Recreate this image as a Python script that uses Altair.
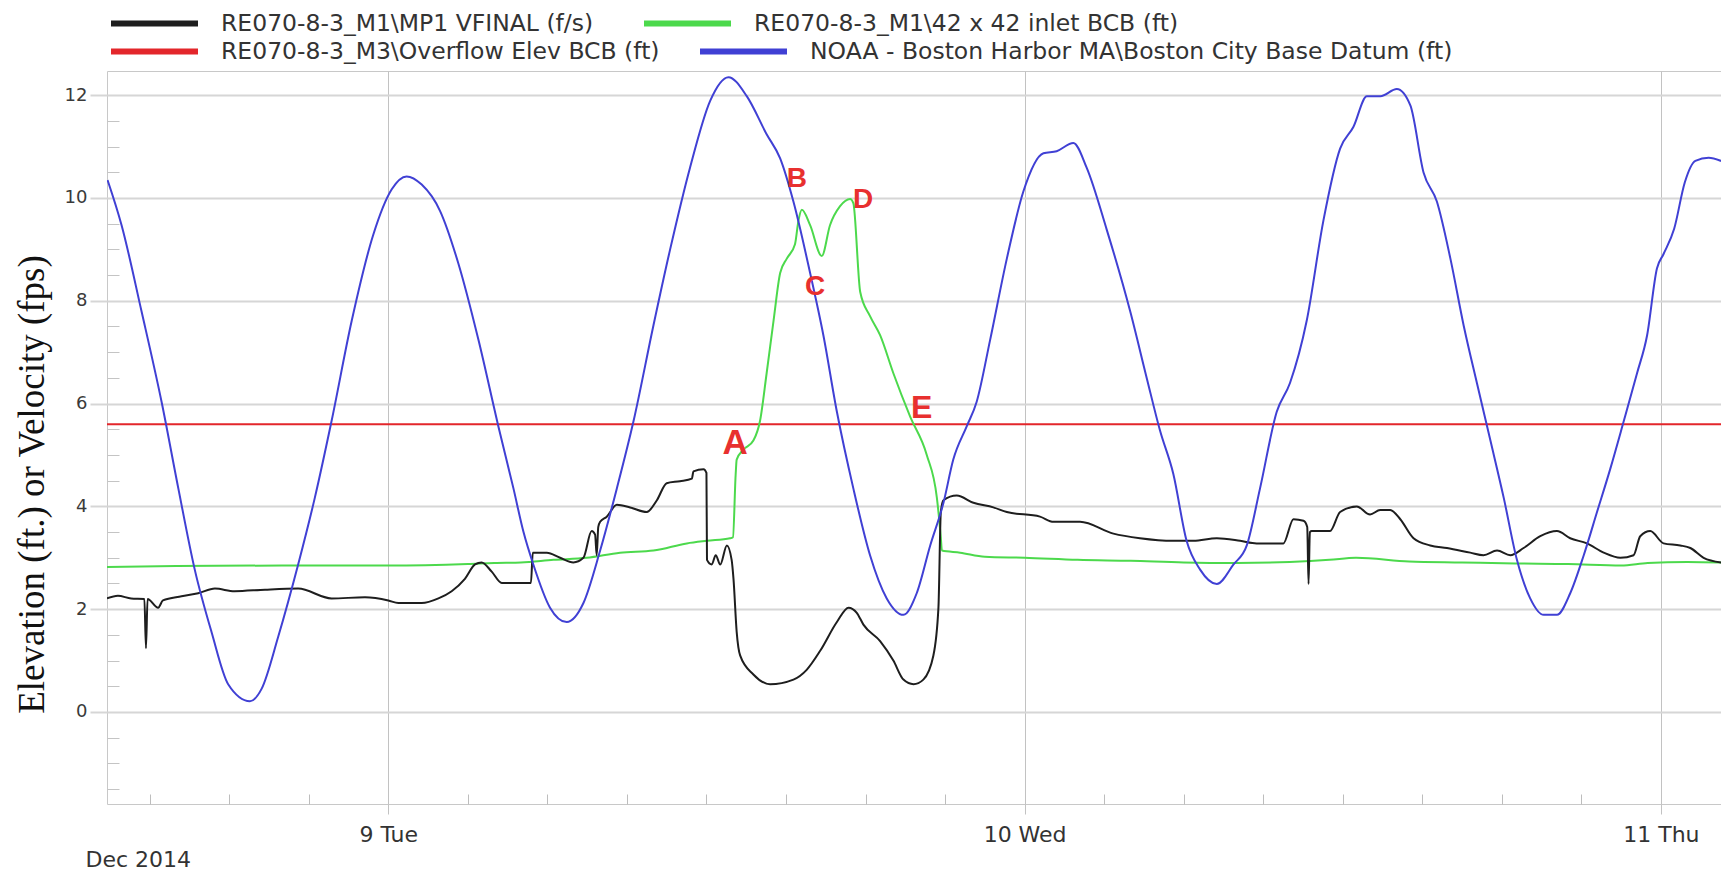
import altair as alt
import pandas as pd

BASE = "2014-12-08"  # hours below are counted from 8 Dec 2014 00:00

# RE070-8-3_M1\MP1 VFINAL (f/s)  -- black
black_h = [13.39, 13.8, 14.3, 14.8, 14.86, 14.92, 15.32, 15.5, 16.2, 16.83, 17.46, 18.2, 19.35,
           20.6, 21.86, 23.12, 24.0, 24.38, 25.26, 25.89, 26.39, 26.89, 27.27, 27.52, 27.9, 28.28,
           29.28, 29.38, 29.45, 29.98, 30.48, 30.98, 31.36, 31.67, 31.8, 31.86, 31.92, 31.99, 32.24,
           32.62, 33.12, 33.75, 34.13, 34.5, 35.0, 35.45, 35.51, 35.89, 36.0, 36.02, 36.2, 36.35,
           36.52, 36.77, 36.95, 37.02, 37.14, 37.27, 37.77, 38.4, 39.28, 39.78, 40.29, 40.92, 41.36,
           41.67, 41.92, 42.55, 43.05, 43.43, 43.81, 44.18, 44.56, 44.75, 44.84, 44.94, 45.44, 46.07,
           46.82, 47.33, 48.58, 49.09, 50.09, 51.35, 52.35, 53.61, 54.37, 55.25, 56.13, 56.75, 57.76,
           58.14, 58.52, 58.66, 58.71, 58.76, 58.83, 59.52, 59.9, 60.53, 61.03, 61.41, 61.79, 62.17,
           62.67, 63.3, 63.93, 64.81, 65.31, 65.82, 66.32, 66.82, 67.45, 68.08, 68.58, 69.21, 69.84,
           70.47, 70.97, 71.22, 71.6, 72.1, 72.73, 73.11, 73.61, 74.27]
black_v = [2.21, 2.26, 2.21, 2.2, 1.24, 2.2, 2.03, 2.17, 2.25, 2.31, 2.4, 2.35, 2.38,
           2.4, 2.21, 2.23, 2.17, 2.12, 2.12, 2.21, 2.35, 2.59, 2.87, 2.91, 2.73, 2.51,
           2.51, 2.51, 3.1, 3.1, 3.0, 2.91, 3.0, 3.52, 3.45, 3.05, 3.6, 3.7, 3.8,
           4.03, 3.98, 3.89, 4.12, 4.45, 4.49, 4.54, 4.68, 4.72, 4.65, 2.96, 2.87, 3.05,
           2.87, 3.24, 2.96, 2.59, 1.56, 1.1, 0.73, 0.54, 0.63, 0.82, 1.19, 1.75, 2.03,
           1.93, 1.7, 1.38, 1.0, 0.63, 0.54, 0.63, 1.1, 2.03, 3.89, 4.12, 4.21, 4.07,
           3.98, 3.89, 3.8, 3.7, 3.7, 3.47, 3.38, 3.33, 3.33, 3.38, 3.33, 3.28, 3.28,
           3.75, 3.72, 3.6, 2.49, 3.5, 3.52, 3.52, 3.89, 4.0, 3.84, 3.93, 3.93, 3.75,
           3.38, 3.24, 3.19, 3.1, 3.05, 3.14, 3.05, 3.19, 3.42, 3.52, 3.38, 3.28, 3.1,
           3.0, 3.05, 3.42, 3.52, 3.28, 3.24, 3.19, 3.0, 2.91]

# RE070-8-3_M1\42 x 42 inlet BCB (ft)  -- green
green_h = [13.39, 16.0, 20.0, 24.0, 27.0, 28.0, 29.0, 30.23, 31.48, 32.74, 34.0, 35.26, 36.01,
           36.89, 37.0, 37.1, 37.14, 37.39, 37.77, 38.02, 38.27, 38.53, 38.78, 39.03, 39.34, 39.47,
           39.6, 39.91, 40.35, 40.66, 41.04, 41.42, 41.54, 41.8, 42.17, 42.55, 43.05, 43.68, 44.31,
           44.69, 44.84, 44.88, 45.57, 46.5, 48.0, 50.0, 52.0, 54.0, 56.0, 58.0, 59.5, 60.5,
           62.5, 64.5, 66.5, 68.5, 70.5, 71.5, 73.0, 74.27]
green_v = [2.82, 2.84, 2.85, 2.85, 2.88, 2.9, 2.91, 2.96, 3.0, 3.1, 3.14, 3.28, 3.33,
           3.38, 3.4, 4.6, 4.91, 5.1, 5.28, 5.66, 6.59, 7.61, 8.54, 8.82, 9.1, 9.56,
           9.77, 9.47, 8.87, 9.47, 9.84, 9.98, 9.9, 8.17, 7.7, 7.33, 6.59, 5.75, 5.0,
           4.17, 3.4, 3.14, 3.1, 3.02, 3.0, 2.96, 2.94, 2.91, 2.9, 2.92, 2.96, 3.0,
           2.93, 2.91, 2.89, 2.88, 2.85, 2.9, 2.92, 2.91]

# RE070-8-3_M3\Overflow Elev BCB (ft)  -- red
red_h = [13.39, 74.27]
red_v = [5.6, 5.6]

# NOAA - Boston Harbor MA\Boston City Base Datum (ft)  -- blue
blue_h = [13.41, 13.94, 14.69, 15.45, 16.08, 16.7, 17.33, 17.96, 18.78, 19.22, 19.85, 20.6, 21.23,
          21.86, 22.62, 23.43, 24.13, 24.69, 25.26, 25.95, 26.64, 27.4, 28.15, 28.72, 29.1, 29.47,
          30.1, 30.73, 31.36, 31.99, 32.62, 33.25, 34.0, 34.63, 35.38, 36.14, 36.83, 37.52, 38.27,
          38.78, 39.28, 39.91, 40.41, 40.92, 41.54, 42.17, 42.8, 43.43, 43.93, 44.44, 44.94, 45.31,
          45.82, 46.19, 46.7, 47.33, 47.95, 48.71, 49.21, 49.84, 50.34, 51.1, 51.98, 52.61, 53.11,
          53.61, 54.11, 54.62, 55.25, 55.88, 56.38, 56.88, 57.51, 58.01, 58.64, 59.27, 59.9, 60.4,
          60.91, 61.42, 62.04, 62.55, 63.05, 63.55, 64.06, 64.56, 65.06, 65.57, 66.07, 66.57, 67.07,
          67.58, 68.08, 68.58, 69.09, 69.59, 70.09, 70.6, 71.1, 71.48, 71.85, 72.1, 72.5, 72.9,
          73.3, 73.8, 74.27]
blue_v = [10.35, 9.47, 7.8, 6.03, 4.35, 2.77, 1.56, 0.54, 0.21, 0.45, 1.47, 2.87, 4.17,
          5.66, 7.61, 9.28, 10.17, 10.42, 10.26, 9.75, 8.73, 7.24, 5.56, 4.35, 3.5, 2.87,
          2.03, 1.75, 2.12, 3.14, 4.35, 5.66, 7.52, 9.0, 10.59, 11.89, 12.35, 11.98, 11.24,
          10.77, 9.93, 8.54, 7.33, 5.84, 4.35, 3.05, 2.21, 1.89, 2.31, 3.24, 4.07, 4.91,
          5.56, 6.03, 7.24, 8.82, 10.12, 10.87, 10.91, 11.07, 10.59, 9.38, 7.8, 6.49, 5.47,
          4.63, 3.33, 2.77, 2.49, 2.87, 3.24, 4.35, 5.84, 6.4, 7.61, 9.56, 10.96, 11.38,
          11.98, 11.98, 12.12, 11.8, 10.49, 9.93, 8.82, 7.52, 6.4, 5.28, 4.17, 2.96, 2.21,
          1.89, 1.89, 2.31, 3.05, 3.89, 4.73, 5.66, 6.59, 7.33, 8.63, 8.91, 9.4, 10.3,
          10.72, 10.78, 10.72]

# annotation letters
ann_letters = ["A", "B", "C", "D", "E"]
ann_h = [37.08, 39.41, 40.1, 41.91, 44.12]
ann_v = [5.23, 10.36, 8.26, 9.97, 5.92]

series_names = [
    "RE070-8-3_M1\\MP1 VFINAL (f/s)",
    "RE070-8-3_M1\\42 x 42 inlet BCB (ft)",
    "RE070-8-3_M3\\Overflow Elev BCB (ft)",
    "NOAA - Boston Harbor MA\\Boston City Base Datum (ft)",
]
series_colors = ["#1e1e1e", "#4cd94c", "#e3262b", "#4040d4"]

y_major = [0, 2, 4, 6, 8, 10, 12]
y_minor = [-1.5, -1, -0.5, 0.5, 1, 1.5, 2.5, 3, 3.5, 4.5, 5, 5.5, 6.5, 7, 7.5,
           8.5, 9, 9.5, 10.5, 11, 11.5]
x_major_days = [9, 10, 11]
x_minor_times = [(8, 15), (8, 18), (8, 21), (9, 3), (9, 6), (9, 9), (9, 12), (9, 15), (9, 18),
                 (9, 21), (10, 3), (10, 6), (10, 9), (10, 12), (10, 15), (10, 18), (10, 21)]


def times(hours):
    t = pd.Timestamp(BASE) + pd.to_timedelta(hours, unit="h")
    return list(t.strftime("%Y-%m-%dT%H:%M:%S"))


def frame(hours, values, name):
    return pd.DataFrame({"time": times(hours), "value": values, "series": name})


x_scale = alt.Scale(
    domain=[alt.DateTime(year=2014, month=12, date=8, hours=13, minutes=23, seconds=24),
            alt.DateTime(year=2014, month=12, date=11, hours=2, minutes=16)],
    nice=False,
)
y_scale = alt.Scale(domain=[-1.79, 12.47], nice=False, zero=False)

FONT = "DejaVu Sans"

main_x_axis = alt.Axis(
    orient="bottom",
    values=[alt.DateTime(year=2014, month=12, date=d) for d in x_major_days],
    format="%-d %a", formatType="time",
    grid=True, gridColor="#c2c2c2", gridWidth=1,
    domain=False, ticks=True, tickSize=10, tickColor="#c2c2c2", tickWidth=1,
    labelFont=FONT, labelFontSize=22, labelColor="#333333", labelPadding=10,
    labelFlush=False, labelOverlap=False,
    title="Dec 2014", titleFont=FONT, titleFontSize=22, titleFontWeight="normal",
    titleColor="#333333", titleAlign="left", titleAnchor="start", titleX=-22, titleY=62,
    titleBaseline="alphabetic",
)
main_y_axis = alt.Axis(
    orient="left",
    values=y_major, grid=True, gridColor="#d6d6d6", gridWidth=2,
    domain=False, ticks=True, tickSize=17, tickColor="#d6d6d6", tickWidth=2,
    labelFont=FONT, labelFontSize=18, labelColor="#3a3a3a", labelPadding=3,
    title="Elevation (ft.) or Velocity (fps)", titleFont="Liberation Serif",
    titleFontSize=37, titleFontWeight="normal", titleColor="#111111",
    titleAngle=270, titleX=-75, titleY=413, titleAlign="center", titleBaseline="middle",
)
minor_x_axis = alt.Axis(
    orient="bottom",
    values=[alt.DateTime(year=2014, month=12, date=d, hours=hh) for d, hh in x_minor_times],
    grid=False, domain=False, labels=False, ticks=True, tickSize=10, offset=-10,
    tickColor="#bdbdbd", tickWidth=1, title=None,
)
minor_y_axis = alt.Axis(
    orient="left",
    values=y_minor, grid=False, domain=False, labels=False, ticks=True, tickSize=12,
    offset=-12, tickColor="#c4c4c4", tickWidth=1, title=None,
)


def line_layer(hours, values, idx, legend_x, legend_y, x_axis=None, y_axis=None):
    name = series_names[idx]
    return alt.Chart(frame(hours, values, name)).mark_line(
        strokeWidth=2, clip=True, interpolate="monotone"
    ).encode(
        x=alt.X("time:T", scale=x_scale, axis=x_axis),
        y=alt.Y("value:Q", scale=y_scale, axis=y_axis),
        color=alt.Color(
            "series:N",
            scale=alt.Scale(domain=[name], range=[series_colors[idx]]),
            legend=alt.Legend(
                title=None, orient="none", legendX=legend_x, legendY=legend_y,
                symbolType="stroke", symbolSize=7569, symbolStrokeWidth=6,
                labelFont=FONT, labelFontSize=23.5, labelColor="#333333", labelOffset=20,
                labelLimit=1000, padding=0,
            ),
        ),
    )


LY1, LY2 = -94, -66
red = line_layer(red_h, red_v, 2, 1, LY2, x_axis=minor_x_axis, y_axis=minor_y_axis)
green = line_layer(green_h, green_v, 1, 534, LY1)
black = line_layer(black_h, black_v, 0, 1, LY1, x_axis=main_x_axis, y_axis=main_y_axis)
blue = line_layer(blue_h, blue_v, 3, 590, LY2)

ann = pd.DataFrame({"letter": ann_letters, "time": times(ann_h), "value": ann_v})


def text_layer(letters, size):
    return alt.Chart(ann).transform_filter(
        alt.FieldOneOfPredicate(field="letter", oneOf=letters)
    ).mark_text(
        font="Liberation Sans", fontWeight="bold", fontSize=size, color="#e8302f",
        align="center", baseline="middle",
    ).encode(
        x=alt.X("time:T", scale=x_scale, axis=None),
        y=alt.Y("value:Q", scale=y_scale, axis=None),
        text="letter:N",
    )


chart = alt.layer(
    red, green, black, blue,
    text_layer(["A"], 35), text_layer(["E"], 32), text_layer(["B", "C", "D"], 28),
).resolve_scale(color="independent").resolve_axis(x="independent", y="independent").properties(
    width=1614, height=733,
    padding={"left": 99, "top": 63, "right": 0, "bottom": 66},
    autosize=alt.AutoSizeParams(type="none"),
    background="white",
).configure_view(stroke="#c8c8c8", strokeWidth=1)

chart.save("out.html", embed_options={"renderer": "svg", "actions": False})
